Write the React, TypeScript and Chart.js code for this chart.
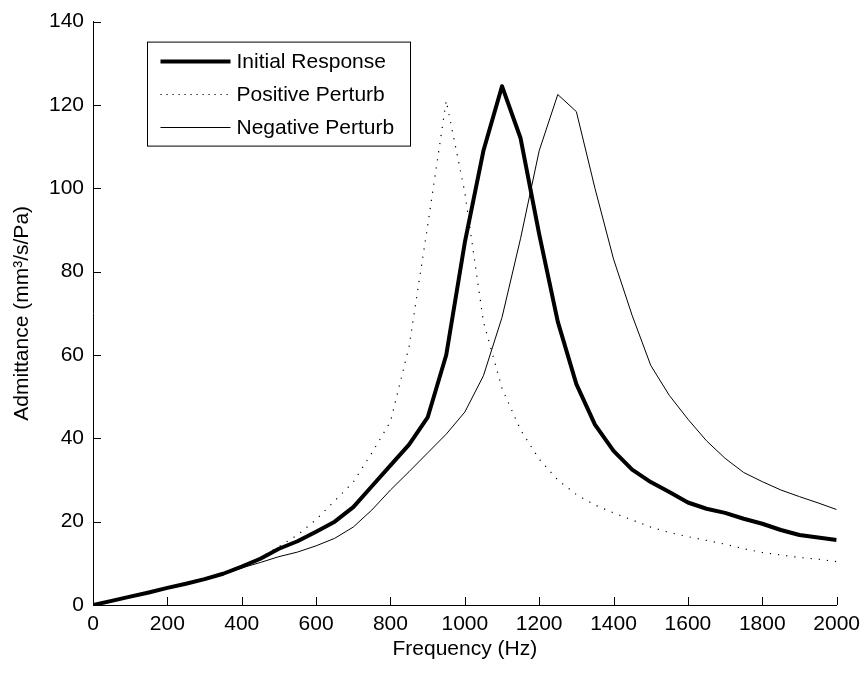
import React, { useEffect, useRef } from "react";
import { Chart, registerables } from "chart.js";

Chart.register(...registerables);

// ---------------- data ----------------
const frequencies = [
  0, 50, 100, 150, 200, 250, 300, 350, 400, 450,
  500, 550, 600, 650, 700, 750, 800, 850, 900, 950,
  1000, 1050, 1100, 1150, 1200, 1250, 1300, 1350, 1400, 1450,
  1500, 1550, 1600, 1650, 1700, 1750, 1800, 1850, 1900, 1950, 2000,
];

const initialResponse = [
  0, 1.0, 2.0, 3.0, 4.1, 5.1, 6.2, 7.5, 9.2, 11.1,
  13.5, 15.3, 17.6, 20, 23.5, 28.5, 33.5, 38.5, 45, 60,
  87, 109, 124.5, 112, 89, 68, 53, 43.3, 37, 32.5,
  29.5, 27.1, 24.6, 23.1, 22.1, 20.7, 19.5, 18, 16.8, 16.2, 15.6,
];

const positivePerturb = [
  0, 0.9, 1.9, 3.0, 4.1, 5.2, 6.4, 7.7, 9.3, 11.4,
  14, 16.8, 20.5, 25, 29.5, 36.5, 44, 62, 91, 121,
  99, 68, 52, 42, 35, 30, 26.5, 24, 22.1, 20.4,
  18.7, 17.4, 16.4, 15.5, 14.6, 13.5, 12.6, 12, 11.4, 11, 10.4,
];

const negativePerturb = [
  0, 1.0, 2.0, 3.0, 4.1, 5.1, 6.2, 7.4, 8.9, 10.2,
  11.6, 12.7, 14.2, 16, 18.7, 22.8, 27.6, 32, 36.5, 41,
  46.3, 55, 69, 88, 109, 122.5, 118.4, 100, 83, 69.5,
  57.5, 50.3, 44.6, 39.4, 35.2, 31.8, 29.6, 27.6, 26, 24.5, 22.9,
];

const seriesLabels = ["Initial Response", "Positive Perturb", "Negative Perturb"];
const xTickValues = [0, 200, 400, 600, 800, 1000, 1200, 1400, 1600, 1800, 2000];
const yTickValues = [0, 20, 40, 60, 80, 100, 120, 140];
const xTitle = "Frequency (Hz)";
const yTitle = "Admittance (mm\u00B3/s/Pa)";

// ---------------- styles ----------------
const FONT = "'Liberation Sans', Arial, Helvetica, sans-serif";
const FONT_SIZE = 21;
const styles = [
  { width: 4, dash: [] as number[], legendDash: [] as number[] },
  { width: 1.2, dash: [1.2, 7], legendDash: [1.2, 4.8] },
  { width: 1, dash: [] as number[], legendDash: [] as number[] },
];

const toPoints = (ys: number[]) => frequencies.map((f, i) => ({ x: f, y: ys[i] }));

const inwardTicks = {
  id: "inwardTicks",
  afterDatasetsDraw(chart: any) {
    const { ctx, chartArea, scales } = chart;
    ctx.save();
    ctx.strokeStyle = "#000";
    ctx.lineWidth = 1;
    const xs = scales.x;
    xs.ticks.forEach((t: any) => {
      const px = Math.round(xs.getPixelForValue(t.value)) + 0.5;
      ctx.beginPath();
      ctx.moveTo(px, chartArea.bottom);
      ctx.lineTo(px, chartArea.bottom - 8);
      ctx.stroke();
    });
    const ys = scales.y;
    ys.ticks.forEach((t: any) => {
      const py = Math.round(ys.getPixelForValue(t.value)) + 0.5;
      ctx.beginPath();
      ctx.moveTo(chartArea.left, py);
      ctx.lineTo(chartArea.left + 8, py);
      ctx.stroke();
    });
    ctx.restore();
  },
};

const boxLegend = {
  id: "boxLegend",
  afterDraw(chart: any) {
    const { ctx, chartArea } = chart;
    const left = chartArea.left + 54.5;
    const top = chartArea.top + 20.5;
    const w = 263;
    const h = 104;
    ctx.save();
    ctx.fillStyle = "#fff";
    ctx.fillRect(left, top, w, h);
    ctx.strokeStyle = "#000";
    ctx.lineWidth = 1;
    ctx.setLineDash([]);
    ctx.strokeRect(left, top, w, h);
    ctx.font = `${FONT_SIZE}px ${FONT}`;
    ctx.textBaseline = "middle";
    ctx.textAlign = "left";
    ctx.fillStyle = "#000";
    seriesLabels.forEach((label, i) => {
      const cy = top + 19 + i * 33;
      const st = styles[i];
      ctx.beginPath();
      ctx.lineWidth = st.width;
      ctx.setLineDash(st.legendDash);
      ctx.moveTo(left + 13, Math.round(cy) + 0.5);
      ctx.lineTo(left + 83, Math.round(cy) + 0.5);
      ctx.stroke();
      ctx.setLineDash([]);
      ctx.fillText(label, left + 89, cy + 1);
    });
    ctx.restore();
  },
};

export default function App() {
  const canvasRef = useRef<HTMLCanvasElement | null>(null);

  useEffect(() => {
    if (!canvasRef.current) return;
    const seriesValues = [initialResponse, positivePerturb, negativePerturb];
    const chart = new Chart(canvasRef.current, {
      type: "line",
      data: {
        datasets: seriesValues.map((vals, i) => ({
          label: seriesLabels[i],
          data: toPoints(vals),
          borderColor: "#000",
          backgroundColor: "#000",
          borderWidth: styles[i].width,
          borderDash: styles[i].dash,
          borderJoinStyle: "round" as const,
          pointRadius: 0,
          tension: 0,
          fill: false,
        })),
      },
      options: {
        animation: false,
        responsive: true,
        maintainAspectRatio: false,
        layout: { padding: { top: 21, right: 30, left: 0, bottom: 0 } },
        plugins: {
          legend: { display: false },
          tooltip: { enabled: false },
        },
        scales: {
          x: {
            type: "linear",
            min: 0,
            max: 2000,
            afterBuildTicks: (scale: any) => {
              scale.ticks = xTickValues.map((v) => ({ value: v }));
            },
            afterFit: (scale: any) => {
              scale.height = 68;
            },
            grid: { display: false, drawTicks: false },
            border: { display: true, color: "#000", width: 1 },
            ticks: {
              padding: 7,
              color: "#000",
              maxRotation: 0,
              autoSkip: false,
              font: { family: FONT, size: FONT_SIZE },
              callback: (v: any) => String(v),
            },
            title: {
              display: true,
              text: xTitle,
              color: "#000",
              font: { family: FONT, size: FONT_SIZE },
              padding: { top: 0, bottom: 11 },
            },
          },
          y: {
            type: "linear",
            min: 0,
            max: 140,
            afterBuildTicks: (scale: any) => {
              scale.ticks = yTickValues.map((v) => ({ value: v }));
            },
            afterFit: (scale: any) => {
              scale.width = 93;
            },
            grid: { display: false, drawTicks: false },
            border: { display: true, color: "#000", width: 1 },
            ticks: {
              padding: 9,
              color: "#000",
              autoSkip: false,
              font: { family: FONT, size: FONT_SIZE },
              callback: (v: any) => String(v),
            },
            title: {
              display: true,
              text: yTitle,
              color: "#000",
              font: { family: FONT, size: FONT_SIZE },
              padding: { top: 10, bottom: 0 },
            },
          },
        },
      },
      plugins: [inwardTicks, boxLegend],
    } as any);
    return () => chart.destroy();
  }, []);

  return (
    <div
      style={{
        position: "absolute",
        left: 0,
        top: 0,
        width: 867,
        height: 673,
        background: "#fff",
      }}
    >
      <canvas ref={canvasRef} />
    </div>
  );
}
